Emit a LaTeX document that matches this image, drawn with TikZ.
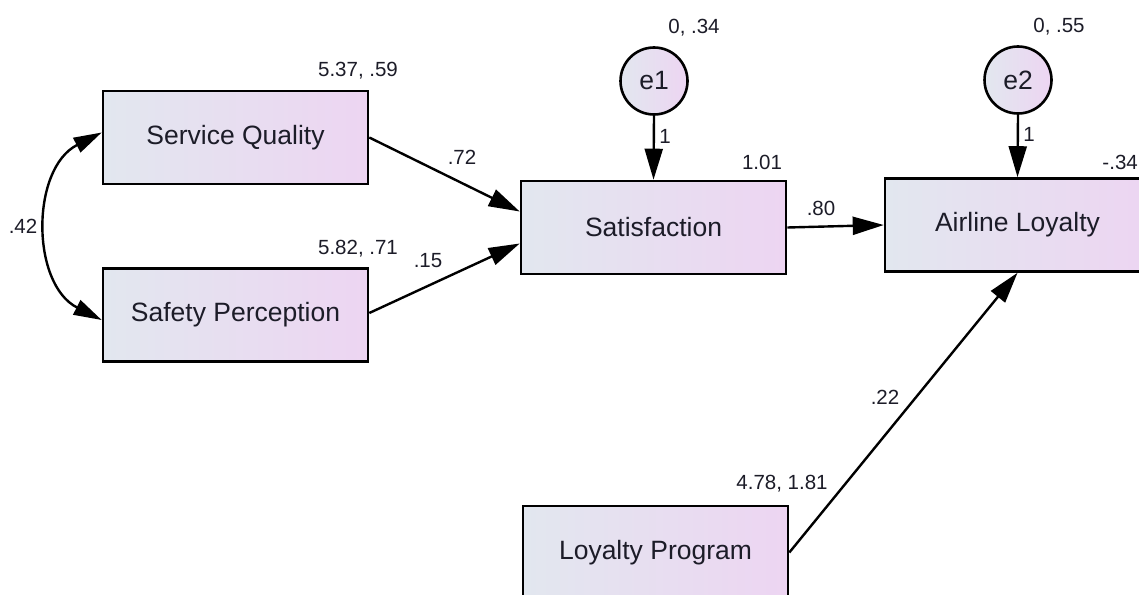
\documentclass[tikz,border=0pt]{standalone}
\usepackage{fontspec}
\setmainfont{Liberation Sans}
\usetikzlibrary{arrows.meta,calc}
\definecolor{gl}{HTML}{E2E7EF}
\definecolor{gr}{HTML}{EDD5F2}
\definecolor{txt}{HTML}{1C1C28}
\begin{document}
\begin{tikzpicture}[x=1pt,y=-1pt,
  box/.style={draw=black, line width=2.6pt, left color=gl, right color=gr,
    minimum width=265pt, minimum height=93pt, inner sep=0pt,
    font=\fontsize{26.5}{30}\selectfont, text=txt},
  err/.style={circle, draw=black, line width=2.6pt, left color=gl, right color=gr,
    minimum size=67pt, inner sep=0pt,
    font=\fontsize{26.5}{30}\selectfont, text=txt},
  lbl/.style={font=\fontsize{20.5}{24}\selectfont, text=txt, inner sep=0pt},
  link/.style={line width=2.4pt, draw=black, -{Triangle[length=31pt,width=18pt]}},
  covar/.style={line width=2.4pt, draw=black, {Triangle[length=28pt,width=16pt]}-{Triangle[length=28pt,width=16pt]}}
]
\useasboundingbox (0,0) rectangle (1139,594);
\clip (0,0) rectangle (1139,594);
\fill[white] (0,0) rectangle (1139,594);

\node[box] (sq) at (235.5,137.5) {Service Quality};
\node[box] (sp) at (235.5,315) {Safety Perception};
\node[box] (sat) at (653.5,227.5) {Satisfaction};
\node[box] (al) at (1017.5,225) {Airline Loyalty};
\node[box] (lp) at (655.5,552.5) {Loyalty Program};
\node[err] (e1) at (654,81) {e1};
\node[err] (e2) at (1018,80) {e2};

\draw[link] (sq.east) -- ($(sat.west)+(0,-16)$);
\draw[link] ($(sp.east)+(0,-2)$) -- ($(sat.west)+(0,16)$);
\draw[link] (sat.east) -- (al.west);
\draw[link] (lp.east) -- (al.south);
\draw[link] (e1.south) -- (sat.north);
\draw[link] (e2.south) -- (al.north);
\draw[covar] ($(sq.west)+(0,-5)$) .. controls +(-71,36) and +(-71,-36) .. ($(sp.west)+(0,5)$);

\node[lbl] (lsq) at (358,71) {5.37, .59};
\node[lbl] (lsp) at (358,249) {5.82, .71};
\node[lbl] (lcov) at (23,226) {.42};
\node[lbl] (l72) at (462,157) {.72};
\node[lbl] (l15) at (428,261) {.15};
\node[lbl] (le1) at (665,136) {1};
\node[lbl] (lsat) at (762,162) {1.01};
\node[lbl] (lv1) at (694,28) {0, .34};
\node[lbl] (l80) at (821,208) {.80};
\node[lbl] (lv2) at (1059,27) {0, .55};
\node[lbl] (le2) at (1029,134) {1};
\node[lbl, anchor=east] (lal) at (1138,162) {-.34};
\node[lbl] (l22) at (885,397) {.22};
\node[lbl] (llp) at (782,484) {4.78, 1.81};
\end{tikzpicture}
\end{document}
